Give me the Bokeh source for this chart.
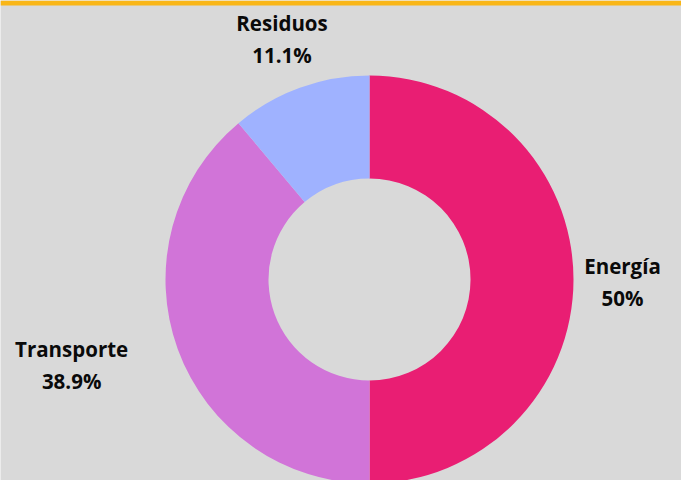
import math
from bokeh.plotting import figure
from bokeh.models import Range1d, ColumnDataSource, BoxAnnotation
from bokeh.core.properties import value
from bokeh.embed import file_html
from bokeh.resources import INLINE

categories = ["Energía", "Transporte", "Residuos"]
shares = [50.0, 38.9, 11.1]
pct_labels = ["50%", "38.9%", "11.1%"]
colors = ["#E91E73", "#D174D8", "#9FB2FF"]

W, H = 681, 480
cx, cy = 369, 201
r_out, r_in = 204, 101
label_r = [253, 310, 256]
label_nudge_deg = [-0.5, -3.9, 0.0]

total = sum(shares)
starts, ends, lx, ly = [], [], [], []
a = math.pi / 2
for s, lr, nd in zip(shares, label_r, label_nudge_deg):
    span = s / total * 2 * math.pi
    starts.append(a)
    ends.append(a - span)
    mid = a - span / 2 + math.radians(nd)
    lx.append(cx + lr * math.cos(mid))
    ly.append(cy + lr * math.sin(mid))
    a -= span

src = ColumnDataSource(dict(cat=categories, pct=pct_labels, start=starts, end=ends,
                            color=colors, lx=lx, ly=ly,
                            x=[cx] * 3, y=[cy] * 3))

p = figure(width=W, height=H, output_backend="svg", toolbar_location=None,
           x_range=Range1d(0, W), y_range=Range1d(0, H),
           min_border=0, outline_line_color=None)
p.axis.visible = False
p.grid.visible = False
p.background_fill_color = "#D9D9D9"
p.border_fill_color = "#D9D9D9"

p.annular_wedge(x="x", y="y", inner_radius=r_in, outer_radius=r_out,
                start_angle="start", end_angle="end", direction="clock",
                fill_color="color", line_color=None, source=src)

p.text(x="lx", y="ly", text="cat", source=src, text_align="center",
       text_baseline="middle", y_offset=-16, text_font=value("Open Sans"),
       text_font_style="bold", text_font_size="20.5px", text_color="#0A0A0A")
p.text(x="lx", y="ly", text="pct", source=src, text_align="center",
       text_baseline="middle", y_offset=16, text_font=value("Open Sans"),
       text_font_style="bold", text_font_size="20.5px", text_color="#0A0A0A")

p.add_layout(BoxAnnotation(top=H, bottom=H - 5, fill_color="#F9B617",
                           fill_alpha=1, line_color=None))

open("out.html", "w").write(file_html(p, INLINE))
